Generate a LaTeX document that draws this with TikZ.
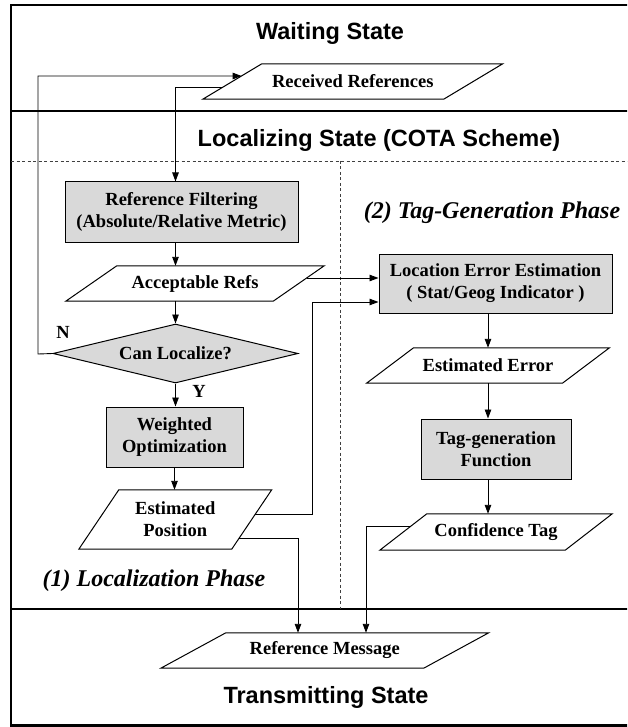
\documentclass[tikz,border=0pt]{standalone}
\usepackage{fontspec}
\setmainfont{Liberation Serif}
\newfontfamily\headfont{Liberation Sans}
\usetikzlibrary{calc,shapes.geometric,arrows.meta}
\newcommand\drawio[2]{\draw[iopath] ($(#1.south west)+(-#2/2,0)$) -- ($(#1.south east)+(-#2/2,0)$) -- ($(#1.north east)+(#2/2,0)$) -- ($(#1.north west)+(#2/2,0)$) -- cycle;}
\begin{document}
\begin{tikzpicture}[x=1pt,y=-1pt,
  every node/.style={inner sep=0pt},
  nodefont/.style={font=\fontsize{18.5}{22}\selectfont\bfseries},
  procbox/.style={nodefont, draw, fill=black!15, line width=1pt, align=center},
  iobox/.style={nodefont, align=center},
  iopath/.style={line width=1pt},
  decision/.style={nodefont, diamond, draw, fill=black!15, line width=1pt, aspect=4.15, minimum width=245pt, minimum height=59pt},
  heading/.style={font=\fontsize{23.5}{28}\selectfont\headfont\bfseries},
  phase/.style={font=\fontsize{24}{28}\selectfont\bfseries\itshape},
  lbl/.style={nodefont},
  frameline/.style={line width=2.2pt},
  dashline/.style={line width=0.8pt, black!75, dash pattern=on 3pt off 2.5pt},
  arr/.style={line width=0.9pt, -{Triangle[length=9pt,width=6.5pt]}},
  conn/.style={line width=0.9pt}
]
\useasboundingbox (0,0) rectangle (627,727);
\clip (0,0) rectangle (627,727);

% frame and state separators
\draw[frameline] (640,5) -- (11,5) -- (11,725.5) -- (640,725.5);
\draw[frameline] (11,111) -- (640,111);
\draw[frameline] (11,609) -- (640,609);
\draw[dashline] (11,161) -- (640,161);
\draw[dashline] (340,161) -- (340,609);

% headings
\node[heading] (ws) at (330,33) {Waiting State};
\node[heading] (ls) at (379,140) {Localizing State (COTA Scheme)};
\node[heading] (ts) at (326,697) {Transmitting State};
\node[phase] (p2) at (492,213) {(2) Tag-Generation Phase};
\node[phase] (p1) at (154,581) {(1) Localization Phase};

% input/output parallelograms
\node[iobox, minimum width=240.5pt, minimum height=35pt] (rr) at (352.75,81.5) {Received References};
\drawio{rr}{59}
\node[iobox, minimum width=207pt, minimum height=35pt] (ar) at (195,283.5) {Acceptable Refs};
\drawio{ar}{51}
\node[iobox, minimum width=152.5pt, minimum height=59pt] (ep) at (175.25,519.5) {Estimated\\Position};
\drawio{ep}{40}
\node[iobox, minimum width=195.5pt, minimum height=35pt] (ee) at (488,365.5) {Estimated Error};
\drawio{ee}{47}
\node[iobox, minimum width=185pt, minimum height=36pt] (ct) at (496,532) {Confidence Tag};
\drawio{ct}{47}
\node[iobox, minimum width=262.5pt, minimum height=35pt] (rm) at (324.75,650.5) {Reference Message};
\drawio{rm}{65}

% process boxes
\node[procbox, minimum width=233pt, minimum height=60pt] (rf) at (181.5,212) {Reference Filtering\\(Absolute/Relative Metric)};
\node[decision] (cl) at (175.5,353.5) {Can Localize?};
\node[procbox, minimum width=137pt, minimum height=60pt] (wo) at (174.5,437) {Weighted\\Optimization};
\node[procbox, minimum width=233pt, minimum height=59pt] (le) at (495.5,283.5) {Location Error Estimation\\( Stat/Geog Indicator )};
\node[procbox, minimum width=150pt, minimum height=60pt] (tg) at (496,449) {Tag-generation\\Function};

% labels
\node[lbl] (nl) at (63,332) {N};
\node[lbl] (yl) at (199,391) {Y};

% connector points
\coordinate (rrin) at ($(rr.west)+(9.3,-5.5)$);
\coordinate (rrout) at ($(rr.west)+(-9.3,5.5)$);
\coordinate (loopx) at (38,354);
\coordinate (arout) at ($(ar.east)+(8,-5.5)$);
\coordinate (leinA) at ($(le.west)+(0,-5.5)$);
\coordinate (leinB) at ($(le.west)+(0,18.5)$);
\coordinate (epoutA) at ($(ep.east)+(3.7,-5.5)$);
\coordinate (epoutB) at ($(ep.east)+(-12.5,18.5)$);
\coordinate (bendx) at (312,514);
\coordinate (rminA) at ($(rm.north)+(-26.75,0)$);
\coordinate (rminB) at ($(rm.north)+(41.25,0)$);
\coordinate (ctout) at ($(ct.west)+(7.8,-6)$);

% connectors
\draw[arr] (cl.west) -- (loopx) |- (rrin);
\draw[arr] (rrout) -| (rf.north -| cl.north);
\draw[arr] (rf.south -| cl.north) -- (ar.north -| cl.north);
\draw[arr] (ar.south -| cl.north) -- (cl.north);
\draw[arr] (cl.south) -- (wo.north -| cl.south);
\draw[arr] (wo.south) -- (ep.north -| wo.south);
\draw[arr] (arout) -- (leinA);
\draw[arr] (epoutA) -- (bendx) |- (leinB);
\draw[arr] (epoutB) -| (rminA);
\draw[arr] (ctout) -| (rminB);
\draw[arr] (le.south -| ee.north) -- (ee.north);
\draw[arr] (ee.south) -- (ee.south |- tg.north);
\draw[arr] (tg.south -| ee.south) -- (ct.north -| ee.south);
\end{tikzpicture}
\end{document}
